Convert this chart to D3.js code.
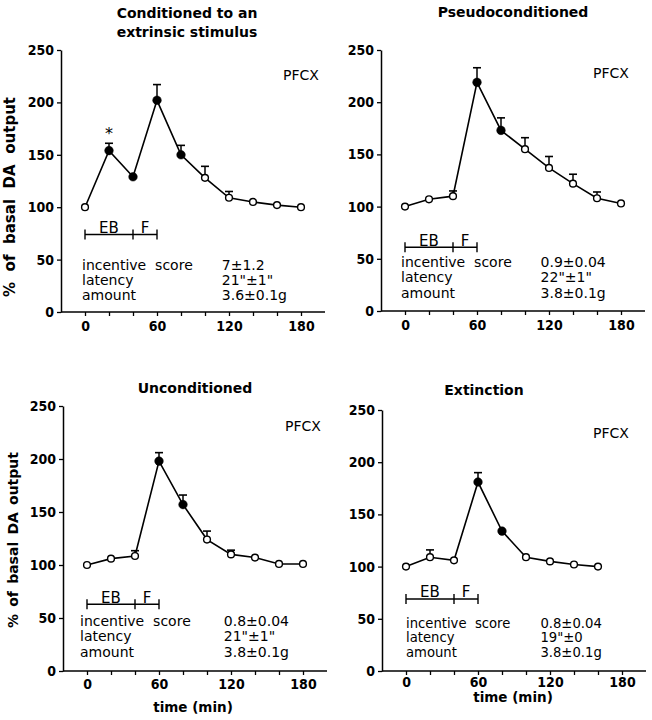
<!DOCTYPE html>
<html><head><meta charset="utf-8">
<script src="https://cdn.jsdelivr.net/npm/d3@7/dist/d3.min.js"></script>
<style>body{margin:0;background:#fff}svg{display:block}</style>
</head><body>
<svg id="c" width="652" height="720"></svg>
<script>
// ---------- data ----------
const xTicks = [0,20,40,60,80,100,120,140,160,180];
const xTickLabels = [0,60,120,180];
const yTicks = [0,50,100,150,200,250];

const tFull = [0,20,40,60,80,100,120,140,160,180];
const tExt  = [0,20,40,60,80,100,120,140,160];

const condVal  = [100,154,129,202,150,128,109,105,102,100];
const condErr  = [0,7,0,15,9,11,6,0,0,0];
const condFill = [0,1,1,1,1,0,0,0,0,0];

const pseudoVal  = [100,107,110,219,173,155,137,122,108,103];
const pseudoErr  = [0,0,5,14,12,11,11,9,6,0];
const pseudoFill = [0,0,0,1,1,0,0,0,0,0];

const uncondVal  = [100,106,108.5,198,157,124,110,107,101,101];
const uncondErr  = [0,0,5,8,9,8,4,0,0,0];
const uncondFill = [0,0,0,1,1,0,0,0,0,0];

const extVal  = [100,109,106,181,134,109,105,102,100];
const extErr  = [0,7,0,9,0,0,0,0,0];
const extFill = [0,0,0,1,1,0,0,0,0];

const titles = [["Conditioned to an","extrinsic stimulus"],["Pseudoconditioned"],["Unconditioned"],["Extinction"]];
const scoreText   = ["7\u00b11.2","0.9\u00b10.04","0.8\u00b10.04","0.8\u00b10.04"];
const latencyText = ['21"\u00b11"','22"\u00b11"','21"\u00b11"','19"\u00b10'];
const amountText  = ["3.6\u00b10.1g","3.8\u00b10.1g","3.8\u00b10.1g","3.8\u00b10.1g"];
const rowNames = ["incentive\u00a0\u00a0score","latency","amount"];
const regionLabel = "PFCX";
const yAxisTitle = "% of basal DA output";
const xAxisTitle = "time (min)";
const sigPoints = [[20],[],[],[]]; // asterisks (times)

// ---------- layout ----------
const layout = [
  {x0:61, x1:325, yb:312, yt:50, tx:187, ty:[17.5,36.5], yl:{x:10,y:197,len:200,fs:15}, xl:null,
   bar:74, rows:[40,25.8,11], lx:82, vt:114, pf:[283,80], tp:5, rf:14},
  {x0:381, x1:645, yb:311, yt:50, tx:513, ty:[17], yl:null, xl:null,
   bar:61, rows:[41.9,28,12.2], lx:401, vt:113, pf:[593,78], tp:5, rf:14},
  {x0:63, x1:327, yb:671, yt:406, tx:195, ty:[393], yl:{x:13,y:540,len:176,fs:14}, xl:{x:193,y:711.5},
   bar:63, rows:[42.7,28.3,12.9], lx:80, vt:114, pf:[285,431], tp:4, rf:14},
  {x0:382, x1:646, yb:671, yt:410, tx:484, ty:[395], yl:null, xl:{x:513,y:702},
   bar:69, rows:[41.5,27.5,13.5], lx:406, vt:112, pf:[593,438], tp:2.5, rf:13.2}
];
const series = [
  {t:tFull, v:condVal, e:condErr, f:condFill},
  {t:tFull, v:pseudoVal, e:pseudoErr, f:pseudoFill},
  {t:tFull, v:uncondVal, e:uncondErr, f:uncondFill},
  {t:tExt, v:extVal, e:extErr, f:extFill}
];

const BOLD = "'DejaVu Sans', Verdana, sans-serif";
const TICKF = "'DejaVu Sans Condensed', 'DejaVu Sans', sans-serif";
const REG = "'DejaVu Sans', sans-serif";
const svg = d3.select("#c");

layout.forEach((L, i) => {
  const S = series[i];
  const x = d3.scaleLinear().domain([-20,200]).range([L.x0, L.x1]);
  const y = d3.scaleLinear().domain([0,250]).range([L.yb, L.yt]);
  const g = svg.append("g");

  L.ty.forEach((ty, k) => {
    g.append("text").attr("x", L.tx).attr("y", ty).attr("text-anchor","middle")
      .attr("font-family", BOLD).attr("font-weight","bold").attr("font-size",14)
      .text(titles[i][k]);
  });

  const ya = d3.axisLeft(y).tickValues(yTicks).tickSize(4).tickPadding(3).tickSizeOuter(0);
  const yG = g.append("g").attr("transform",`translate(${L.x0},0)`).call(ya);
  const xa = d3.axisBottom(x).tickValues(xTicks).tickSize(4).tickPadding(L.tp).tickSizeOuter(0)
    .tickFormat(d => xTickLabels.includes(d) ? d : "");
  const xG = g.append("g").attr("transform",`translate(0,${L.yb})`).call(xa);
  [yG, xG].forEach(a => {
    a.select(".domain").attr("stroke","#000").attr("stroke-width",1.5);
    a.selectAll(".tick line").attr("stroke","#000").attr("stroke-width",1.3);
    a.selectAll(".tick text").attr("fill","#000").attr("font-family",TICKF)
      .attr("font-stretch","condensed")
      .attr("font-weight","bold").attr("font-size",14);
  });
  xG.select(".domain").attr("d", `M${L.x0},0H${L.x1}`);

  if (L.yl) {
    const t = g.append("text").attr("transform",`translate(${L.yl.x},${L.yl.y}) rotate(-90)`)
      .attr("text-anchor","middle").attr("dominant-baseline","central")
      .attr("font-family",BOLD).attr("font-weight","bold").attr("font-size",L.yl.fs)
      .text(yAxisTitle);
    const nat = t.node().getComputedTextLength();
    t.attr("word-spacing", Math.max(0,(L.yl.len - nat)/4));
  }
  if (L.xl) {
    g.append("text").attr("x",L.xl.x).attr("y",L.xl.y).attr("text-anchor","middle")
      .attr("font-family",BOLD).attr("font-weight","bold").attr("font-size",13.5)
      .text(xAxisTitle);
  }

  g.append("text").attr("x",L.pf[0]).attr("y",L.pf[1])
    .attr("font-family",REG).attr("font-size",14).text(regionLabel);

  const by = y(L.bar);
  g.append("line").attr("x1",x(0)).attr("x2",x(60)).attr("y1",by).attr("y2",by)
    .attr("stroke","#000").attr("stroke-width",1.4);
  [0,40,60].forEach(t => g.append("line").attr("x1",x(t)).attr("x2",x(t))
    .attr("y1",by-5).attr("y2",by+5).attr("stroke","#000").attr("stroke-width",1.4));
  [["EB",20],["F",50]].forEach(([s,t]) => g.append("text").attr("x",x(t)).attr("y",by-1.5)
    .attr("text-anchor","middle").attr("font-family",REG)
    .attr("font-size",15).text(s));

  const vals = [scoreText[i], latencyText[i], amountText[i]];
  L.rows.forEach((r, k) => {
    g.append("text").attr("x",L.lx).attr("y",y(r))
      .attr("font-family",REG).attr("font-size",L.rf).text(rowNames[k]);
    g.append("text").attr("x",x(L.vt)).attr("y",y(r))
      .attr("font-family",REG).attr("font-size",L.rf).text(vals[k]);
  });

  const pts = S.t.map((t,k) => ({t, v:S.v[k], e:S.e[k], f:S.f[k]}));
  g.append("path").datum(pts)
    .attr("d", d3.line().x(d => x(d.t)).y(d => y(d.v)))
    .attr("fill","none").attr("stroke","#000").attr("stroke-width",1.6);
  pts.filter(d => d.e > 0).forEach(d => {
    g.append("line").attr("x1",x(d.t)).attr("x2",x(d.t)).attr("y1",y(d.v)).attr("y2",y(d.v+d.e))
      .attr("stroke","#000").attr("stroke-width",1.5);
    g.append("line").attr("x1",x(d.t)-4).attr("x2",x(d.t)+4).attr("y1",y(d.v+d.e)).attr("y2",y(d.v+d.e))
      .attr("stroke","#000").attr("stroke-width",1.6);
  });
  g.selectAll("circle.pt").data(pts).join("circle")
    .attr("cx", d => x(d.t)).attr("cy", d => y(d.v))
    .attr("r", d => d.f ? 4.3 : 3.4)
    .attr("fill", d => d.f ? "#000" : "#fff")
    .attr("stroke","#000").attr("stroke-width", d => d.f ? 0.5 : 1.4);

  sigPoints[i].forEach(t => {
    const d = pts.find(p => p.t === t);
    g.append("text").attr("x",x(t)).attr("y",y(d.v+d.e)-4).attr("text-anchor","middle")
      .attr("font-family",REG).attr("font-size",16).text("*");
  });
});
</script>
</body></html>
